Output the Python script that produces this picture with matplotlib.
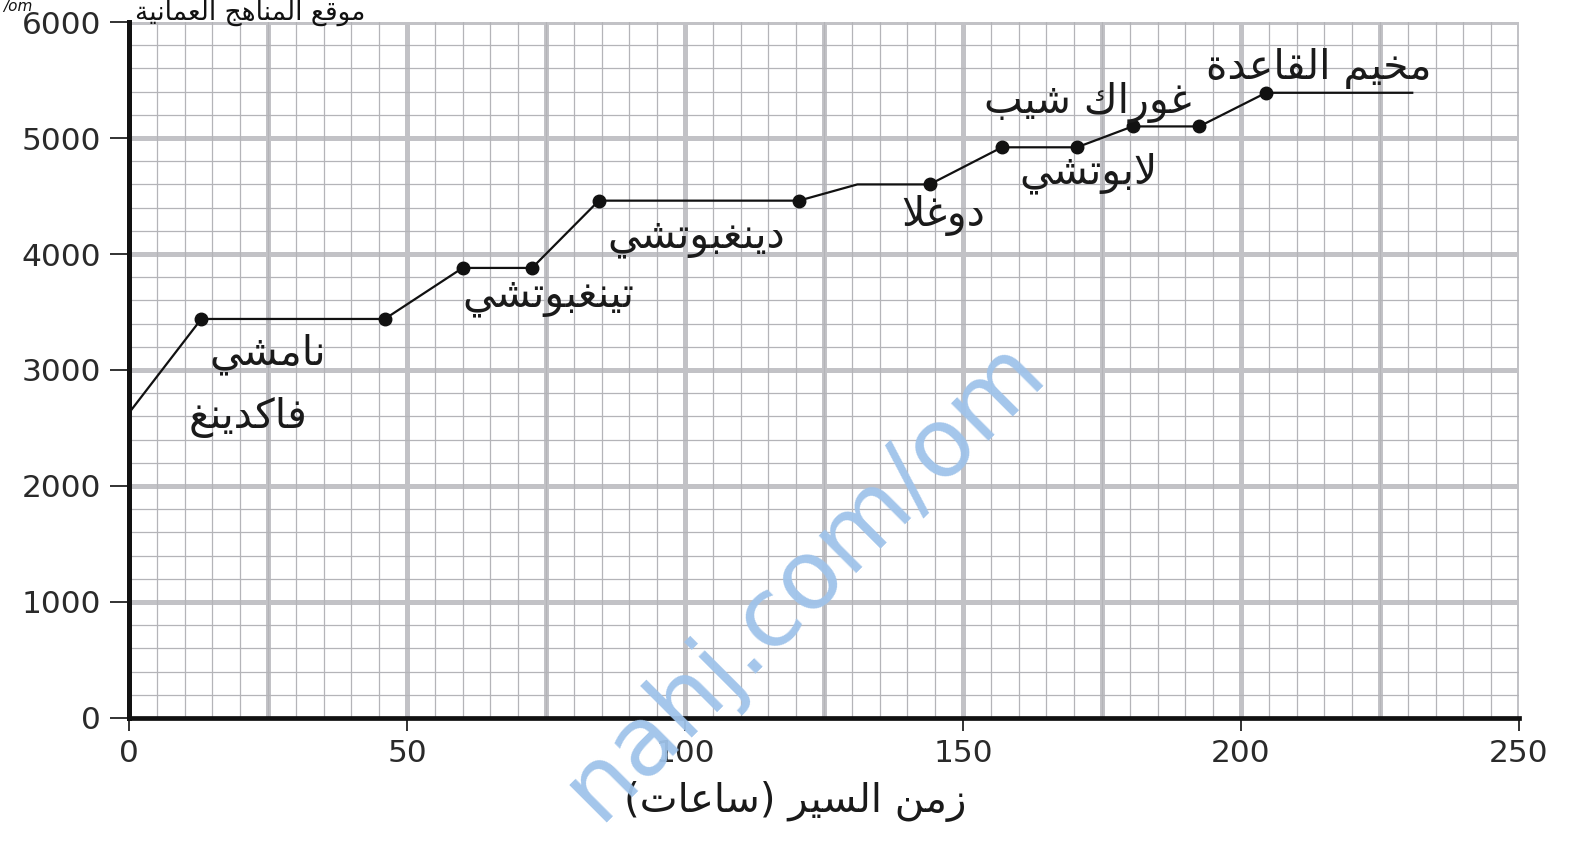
import numpy as np
import matplotlib
matplotlib.use("Agg")
import matplotlib.pyplot as plt

# ---------------- data ----------------
hours = [0, 13, 46, 60, 72.5, 84.5, 120.5, 131, 144, 157, 170.5, 180.5, 192.5, 204.5, 231]
altitude = [2630, 3440, 3440, 3880, 3880, 4460, 4460, 4600, 4600, 4920, 4920, 5100, 5100, 5390, 5390]
stop_idx = [1, 2, 3, 4, 5, 6, 8, 9, 10, 11, 12, 13]

x_ticks = [0, 50, 100, 150, 200, 250]
y_ticks = [0, 1000, 2000, 3000, 4000, 5000, 6000]

place_names = ["نامشي", "فاكدينغ", "تينغبوتشي", "دينغبوتشي", "دوغلا", "لابوتشي", "غوراك شيب", "مخيم القاعدة"]
place_hours = [25, 21.5, 75.5, 102, 146.5, 172.5, 172.5, 214]
place_alt = [3140, 2590, 3630, 4140, 4330, 4700, 5310, 5600]

x_label = "زمن السير (ساعات)"
header = "موقع المناهج العمانية"
watermark = "nahj.com/om"

# ---------------- Arabic shaping (presentation forms + visual order) ----------------
FORMS = {
    '\u0627': ('\uFE8D', '\uFE8E', None, None),
    '\u0628': ('\uFE8F', '\uFE90', '\uFE91', '\uFE92'),
    '\u0629': ('\uFE93', '\uFE94', None, None),
    '\u062A': ('\uFE95', '\uFE96', '\uFE97', '\uFE98'),
    '\u062C': ('\uFE9D', '\uFE9E', '\uFE9F', '\uFEA0'),
    '\u062E': ('\uFEA5', '\uFEA6', '\uFEA7', '\uFEA8'),
    '\u062F': ('\uFEA9', '\uFEAA', None, None),
    '\u0631': ('\uFEAD', '\uFEAE', None, None),
    '\u0632': ('\uFEAF', '\uFEB0', None, None),
    '\u0633': ('\uFEB1', '\uFEB2', '\uFEB3', '\uFEB4'),
    '\u0634': ('\uFEB5', '\uFEB6', '\uFEB7', '\uFEB8'),
    '\u0639': ('\uFEC9', '\uFECA', '\uFECB', '\uFECC'),
    '\u063A': ('\uFECD', '\uFECE', '\uFECF', '\uFED0'),
    '\u0641': ('\uFED1', '\uFED2', '\uFED3', '\uFED4'),
    '\u0642': ('\uFED5', '\uFED6', '\uFED7', '\uFED8'),
    '\u0643': ('\uFED9', '\uFEDA', '\uFEDB', '\uFEDC'),
    '\u0644': ('\uFEDD', '\uFEDE', '\uFEDF', '\uFEE0'),
    '\u0645': ('\uFEE1', '\uFEE2', '\uFEE3', '\uFEE4'),
    '\u0646': ('\uFEE5', '\uFEE6', '\uFEE7', '\uFEE8'),
    '\u0647': ('\uFEE9', '\uFEEA', '\uFEEB', '\uFEEC'),
    '\u0648': ('\uFEED', '\uFEEE', None, None),
    '\u064A': ('\uFEF1', '\uFEF2', '\uFEF3', '\uFEF4'),
}


def shape(s):
    chars = []
    i = 0
    while i < len(s):
        c = s[i]
        if c == '\u0644' and i + 1 < len(s) and s[i + 1] == '\u0627':
            chars.append('LA')
            i += 2
        else:
            chars.append(c)
            i += 1

    def joins_next(c):
        return c in FORMS and FORMS[c][2] is not None

    def is_ar(c):
        return c == 'LA' or c in FORMS

    out = []
    for k, c in enumerate(chars):
        prev = chars[k - 1] if k > 0 else None
        nxt = chars[k + 1] if k + 1 < len(chars) else None
        jp = prev is not None and joins_next(prev) and is_ar(c)
        if c == 'LA':
            out.append('\uFEFC' if jp else '\uFEFB')
            continue
        if c not in FORMS:
            out.append(c)
            continue
        jn = joins_next(c) and nxt is not None and is_ar(nxt)
        iso, fin, ini, med = FORMS[c]
        if jp and jn:
            out.append(med)
        elif jp:
            out.append(fin)
        elif jn:
            out.append(ini)
        else:
            out.append(iso)
    vis = ''.join(reversed(out))
    return vis.translate(str.maketrans('()', ')('))


# ---------------- figure ----------------
plt.rcParams['font.family'] = ['DejaVu Sans']
fig = plt.figure(figsize=(15.79, 8.41), dpi=100)
ax = fig.add_axes([0.0817, 0.1463, 0.9620 - 0.0817, 0.9738 - 0.1463])
ax.set_xlim(0, 250)
ax.set_ylim(0, 6000)

# thin grid
ax.set_xticks(np.arange(0, 251, 5), minor=True)
ax.set_yticks(np.arange(0, 6001, 200), minor=True)
ax.grid(which='minor', color='#b4b4b8', lw=0.9, zorder=0)
ax.tick_params(which='minor', length=0)
# thick grid
ax.vlines(np.arange(25, 251, 25), 0, 6000, color='#c2c2c6', lw=3.6, zorder=1)
ax.hlines(np.arange(1000, 6001, 1000), 0, 250, color='#c2c2c6', lw=3.6, zorder=1)

for s in ['top', 'right']:
    ax.spines[s].set_visible(False)
ax.spines['left'].set_linewidth(3.6)
ax.spines['bottom'].set_linewidth(3.4)
ax.spines['left'].set_color('#111111')
ax.spines['bottom'].set_color('#111111')
ax.spines['left'].set_zorder(5)
ax.spines['bottom'].set_zorder(5)

ax.set_xticks(x_ticks)
ax.set_yticks(y_ticks)
ax.set_xticklabels([str(v) for v in x_ticks])
ax.set_yticklabels([str(v) for v in y_ticks])
ax.tick_params(axis='y', which='major', length=14, width=1.3, color='#222222',
               labelsize=22.5, labelcolor='#2a2a2a', pad=6)
ax.tick_params(axis='x', which='major', length=9, width=1.3, color='#222222',
               labelsize=22.5, labelcolor='#2a2a2a', pad=6)

# data line
ax.plot(hours, altitude, color='#111111', lw=1.6, zorder=6, solid_capstyle='butt')
ax.plot([hours[i] for i in stop_idx], [altitude[i] for i in stop_idx], 'o',
        color='#111111', ms=9, zorder=7)

# place labels
for name, hx, ay in zip(place_names, place_hours, place_alt):
    ax.text(hx, ay, shape(name), fontsize=29.5, color='#1a1a1a', ha='center', va='center', zorder=8)

# axis label
fig.text(795 / 1579, 1 - 802 / 841, shape(x_label), fontsize=29, color='#1a1a1a',
         ha='center', va='center')

# header
fig.text(250 / 1579, 1 - 13 / 841, shape(header), fontsize=19, color='#111111',
         ha='center', va='center')
fig.text(3 / 1579, 1 - 7 / 841, "/om", fontsize=11, color='#111111', style='italic',
         ha='left', va='center')

# watermark
fig.text(996 / 1579, 1 - 322 / 841, watermark, fontsize=70, color='#9fc3ea',
         fontweight='normal', rotation=45, rotation_mode='anchor', ha='right', va='top',
         alpha=0.95, zorder=20)

fig.savefig('out.png', dpi=100)
